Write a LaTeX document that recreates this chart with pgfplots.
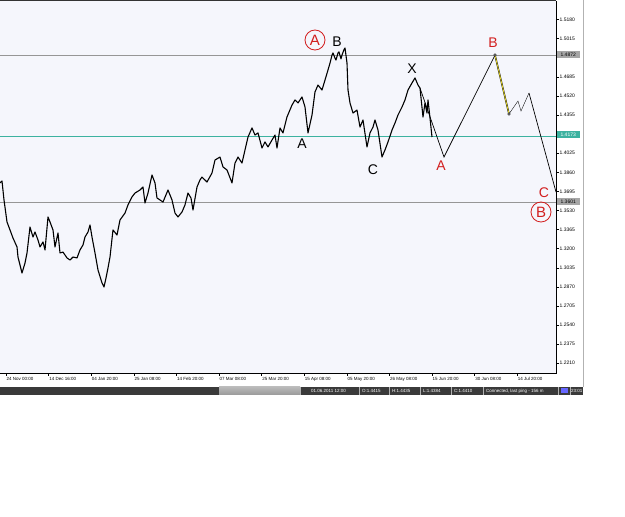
\documentclass[border=0pt]{standalone}
\usepackage{pgfplots}
\pgfplotsset{compat=1.18}
\usepackage{fontspec}
\setmainfont{Liberation Sans}
\definecolor{bgplot}{RGB}{245,246,252}
\definecolor{wred}{RGB}{210,30,30}
\definecolor{tealc}{RGB}{60,178,160}
\definecolor{gline}{RGB}{150,150,150}
\definecolor{ylw}{RGB}{232,218,40}
\definecolor{sbar}{RGB}{58,58,58}
\begin{document}
\begin{tikzpicture}[x=1pt,y=1pt]
\useasboundingbox (0,0) rectangle (625,517);
\fill[white] (0,0) rectangle (625,517);
\begin{axis}[name=ax, at={(0pt,144pt)}, anchor=south west, scale only axis,
  width=556pt, height=372pt,
  xmin=0, xmax=556, ymin=1.2126, ymax=1.5340,
  axis background/.style={fill=bgplot},
  axis line style={draw=none},
  clip mode=individual,
  tick align=outside, xtick pos=bottom, ytick pos=right,
  major tick length=3pt,
  tick style={black, line width=0.4pt},
  xtick={6,48.6,91.2,133.8,176.4,219,261.6,304.2,346.8,389.4,432,474.6,517.2},
  xticklabels={24 Nov 00:00,14 Dec 16:00,04 Jan 20:00,25 Jan 08:00,14 Feb 20:00,07 Mar 08:00,25 Mar 20:00,15 Apr 08:00,05 May 20:00,26 May 08:00,15 Jun 20:00,30 Jun 08:00,14 Jul 20:00},
  xticklabel style={anchor=north west, inner sep=0pt, xshift=0.5pt, yshift=-1.5pt, font=\fontsize{4.5}{5}\selectfont},
  ytick={1.5180,1.5015,1.4685,1.4520,1.4355,1.4025,1.3860,1.3695,1.3530,1.3365,1.3200,1.3035,1.2870,1.2705,1.2540,1.2375,1.2210},
  yticklabels={1.5180,1.5015,1.4685,1.4520,1.4355,1.4025,1.3860,1.3695,1.3530,1.3365,1.3200,1.3035,1.2870,1.2705,1.2540,1.2375,1.2210},
  yticklabel style={anchor=west, inner sep=0pt, xshift=0.5pt, font=\fontsize{5}{6}\selectfont},
]
% level lines
\addplot[gline, line width=0.6pt] coordinates {(0,1.4872) (556,1.4872)};
\addplot[tealc, line width=0.6pt] coordinates {(0,1.4173) (556,1.4173)};
\addplot[gline, line width=0.6pt] coordinates {(0,1.3601) (556,1.3601)};
% price
\addplot[black, line width=1.1pt, line join=round] coordinates {
(0,1.3768) (2,1.3785) (4,1.3621) (7,1.3431) (10,1.3362) (13,1.3292) (17,1.3215) (18,1.3128)
(22,1.2990) (25,1.3076) (27,1.3163) (30,1.3387) (33,1.3301) (35,1.3344) (38,1.3275) (40,1.3215)
(43,1.3258) (45,1.3189) (48,1.3474) (50,1.3431) (53,1.3362) (55,1.3215) (58,1.3336) (60,1.3163)
(63,1.3171) (67,1.3120) (70,1.3102) (73,1.3128) (77,1.3120) (80,1.3189) (83,1.3232) (85,1.3301)
(88,1.3344) (90,1.3405) (92,1.3301) (95,1.3163) (98,1.3016) (102,1.2904) (104,1.2869) (106,1.2947)
(108,1.3033) (110,1.3128) (113,1.3362) (117,1.3318) (120,1.3448) (125,1.3508) (128,1.3578) (132,1.3647)
(135,1.3681) (140,1.3707) (143,1.3733) (145,1.3595) (148,1.3681) (152,1.3837) (155,1.3768) (157,1.3638)
(160,1.3621) (163,1.3603) (168,1.3707) (172,1.3621) (175,1.3508) (178,1.3474) (182,1.3517) (185,1.3578)
(188,1.3681) (191,1.3638) (193,1.3534) (197,1.3733) (200,1.3794) (202,1.3819) (207,1.3776) (212,1.3854)
(215,1.3966) (220,1.3992) (223,1.3906) (227,1.3880) (232,1.3768) (235,1.3940) (238,1.3992) (242,1.3940)
(245,1.4053) (248,1.4165) (252,1.4243) (255,1.4182) (258,1.4200) (262,1.4070) (265,1.4122) (268,1.4079)
(272,1.4139) (275,1.4182) (277,1.4070) (280,1.4243) (283,1.4200) (287,1.4338) (292,1.4441) (295,1.4485)
(298,1.4459) (302,1.4511) (305,1.4424) (308,1.4200) (312,1.4355) (315,1.4554) (318,1.4614) (322,1.4571)
(325,1.4657) (328,1.4744) (330,1.4804) (332,1.4873) (333,1.4891) (335,1.4847) (336,1.4830) (338,1.4891)
(339,1.4900) (341,1.4840) (342,1.4873) (344,1.4920) (345,1.4934) (347,1.4804) (348,1.4571) (350,1.4459)
(353,1.4372) (357,1.4398) (360,1.4251) (363,1.4312) (367,1.4079) (370,1.4200) (373,1.4251) (375,1.4312)
(378,1.4225) (382,1.3992) (385,1.4053) (388,1.4122) (392,1.4225) (395,1.4286) (398,1.4355) (402,1.4424)
(405,1.4485) (408,1.4571) (412,1.4632) (415,1.4675) (418,1.4614) (420,1.4588) (423,1.4338) (425,1.4459)
(427,1.4372) (428,1.4485) (430,1.4329) (432,1.4165)
};
% projection
\addplot[black, line width=0.7pt] coordinates {(420,1.4588) (444,1.3992) (495,1.4873)};
\addplot[black, line width=1.5pt] coordinates {(495,1.4873) (509,1.4364)};
\addplot[ylw, line width=0.8pt] coordinates {(495,1.4873) (509,1.4364)};
\addplot[black, line width=0.35pt] coordinates {(509,1.4364) (518,1.4476) (521,1.4389) (529,1.4545)};
\addplot[black, line width=0.7pt] coordinates {(529,1.4545) (556,1.3690)};
\addplot[only marks, mark=*, mark size=1.4pt, mark options={fill=gray!60, draw=black, line width=0.4pt}] coordinates {(495,1.4873) (509,1.4364)};
% wave labels
\node[circle, draw=wred, line width=0.8pt, text=wred, inner sep=0pt, minimum size=20pt, font=\fontsize{15}{15}\selectfont] at (axis cs:315,1.5003) {A};
\node[font=\fontsize{14}{14}\selectfont] at (axis cs:337,1.4986) {B};
\node[font=\fontsize{14}{14}\selectfont] at (axis cs:412,1.4752) {X};
\node[font=\fontsize{14}{14}\selectfont] at (axis cs:302,1.4104) {A};
\node[font=\fontsize{14}{14}\selectfont] at (axis cs:373,1.3880) {C};
\node[text=wred, font=\fontsize{14}{14}\selectfont] at (axis cs:441,1.3914) {A};
\node[text=wred, font=\fontsize{14}{14}\selectfont] at (axis cs:493,1.4977) {B};
\node[text=wred, font=\fontsize{14}{14}\selectfont] at (axis cs:544,1.3681) {C};
\node[circle, draw=wred, line width=0.8pt, text=wred, inner sep=0pt, minimum size=20pt, font=\fontsize{15}{15}\selectfont] at (axis cs:541,1.3517) {B};
\end{axis}
% frame
\draw[black!80, line width=1pt] (ax.north west) -- (ax.north east);
\draw[black, line width=0.8pt] (ax.north east) -- (ax.south east) -- (ax.south west);
% window border
\draw[gray!60, line width=0.6pt] (583,130) -- (583,517);
% level boxes
\path (ax.south east) ++(0.5pt,0pt) coordinate (bx);
\node[fill=gray!70, anchor=west, inner sep=0.8pt, minimum width=23pt, minimum height=7pt, font=\fontsize{5}{6}\selectfont] at ([yshift=318pt]bx) {1.4872};
\node[fill=tealc, text=white, anchor=west, inner sep=0.8pt, minimum width=23pt, minimum height=7pt, font=\fontsize{5}{6}\selectfont] at ([yshift=238pt]bx) {1.4173};
\node[fill=gray!70, anchor=west, inner sep=0.8pt, minimum width=23pt, minimum height=7pt, font=\fontsize{5}{6}\selectfont] at ([yshift=171pt]bx) {1.3601};
% status bar
\fill[sbar] (0,122) rectangle (583,130);
\shade[top color=gray!55, bottom color=gray!80] (219,122) rectangle (300,130);
\foreach \xx in {300,359,389,420,451,483,558,570} {\draw[gray!60, line width=0.4pt] (\xx,122) -- (\xx,130);}
\begin{scope}[every node/.style={text=white, anchor=west, inner sep=0pt, font=\fontsize{4.5}{5}\selectfont}]
\node at (311,126) {01.06.2011 12:00};
\node at (362,126) {O:1.4415};
\node at (392,126) {H:1.4435};
\node at (423,126) {L:1.4384};
\node at (454,126) {C:1.4410};
\node at (486,126) {Connected, last ping - 156 m};
\node at (571,126) {23:01};
\end{scope}
\fill[blue!60] (561,123.5) rectangle (568,128.5);
\end{tikzpicture}
\end{document}
